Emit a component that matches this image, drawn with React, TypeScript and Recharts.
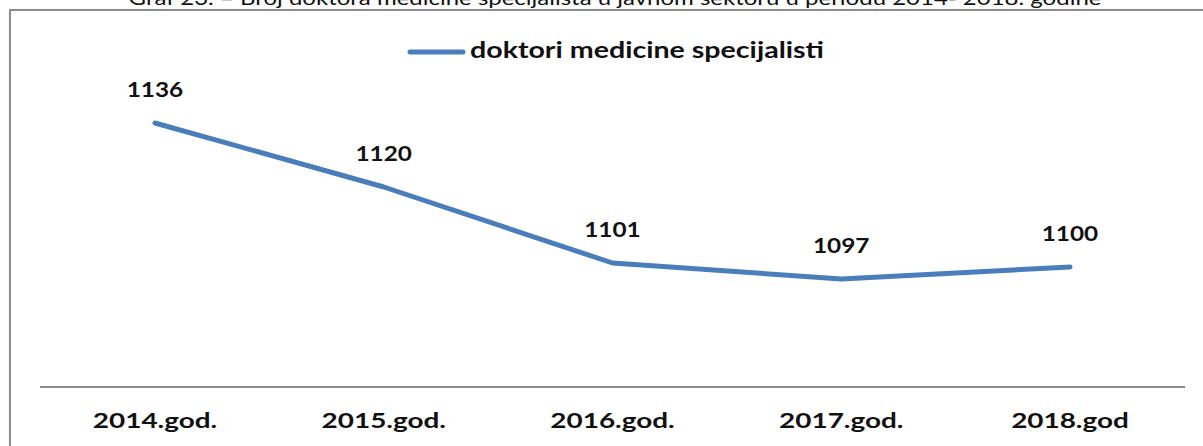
import React from 'react';
import { LineChart, Line, XAxis, YAxis, Legend, LabelList } from 'recharts';

const years = ['2014.god.', '2015.god.', '2016.god.', '2017.god.', '2018.god'];
const specialists = [1136, 1120, 1101, 1097, 1100];
const seriesName = 'doktori medicine specijalisti';
const title =
  'Graf 23. – Broj doktora medicine specijalista u javnom sektoru u periodu 2014- 2018. godine';

const data = years.map((year, i) => ({ year, value: specialists[i] }));

const BLUE = '#4a7ebb';
const FONT = 'Lato, "Open Sans", sans-serif';

// horizontal stretch for the Calibri-like lettering
const TICK_STRETCH = 1.33;
const LABEL_STRETCH = 1.16;
const LEGEND_STRETCH = 1.3;

const YearTick = ({ x, y, payload }: any) => (
  <text
    transform={`translate(${x} ${y + 33}) scale(${TICK_STRETCH} 1)`}
    textAnchor="middle"
    fontFamily={FONT}
    fontWeight={700}
    fontSize={21}
    fill="#111"
  >
    {payload.value}
  </text>
);

const ValueLabel = ({ x, y, value }: any) => (
  <text
    transform={`translate(${x} ${y - 26}) scale(${LABEL_STRETCH} 1)`}
    textAnchor="middle"
    fontFamily={FONT}
    fontWeight={700}
    fontSize={21}
    fill="#111"
  >
    {value}
  </text>
);

const LegendContent = () => (
  <svg width={1203} height={30} style={{ display: 'block' }}>
    <line x1={410} y1={16} x2={463} y2={16} stroke={BLUE} strokeWidth={5} strokeLinecap="round" />
    <text
      transform={`translate(470 22) scale(${LEGEND_STRETCH} 1)`}
      fontFamily={FONT}
      fontWeight={700}
      fontSize={22}
      fill="#111"
    >
      {seriesName}
    </text>
  </svg>
);

export default function App() {
  return (
    <div
      style={{
        position: 'fixed',
        left: 0,
        top: 0,
        width: 1203,
        height: 446,
        overflow: 'hidden',
        background: '#fff',
      }}
    >
      <svg width={1203} height={12} style={{ position: 'absolute', left: 0, top: 0 }}>
        <text
          transform="translate(615 5) scale(1.2 1)"
          textAnchor="middle"
          fontFamily={FONT}
          fontSize={20}
          fill="#111"
        >
          {title}
        </text>
      </svg>
      <div
        style={{
          position: 'absolute',
          left: 9,
          top: 9,
          width: 1300,
          height: 500,
          border: '2px solid #8c8c8c',
          boxShadow: '1px 1px 2px rgba(0,0,0,0.25)',
        }}
      />
      <div style={{ position: 'absolute', left: 0, top: 0 }}>
        <LineChart
          width={1203}
          height={446}
          data={data}
          margin={{ top: 77, right: 18, bottom: 9, left: 40 }}
        >
          <XAxis
            dataKey="year"
            scale="point"
            padding={{ left: 115, right: 115 }}
            interval={0}
            height={50}
            axisLine={{ stroke: '#8c8c8c', strokeWidth: 2 }}
            tickLine={false}
            tick={<YearTick />}
          />
          <YAxis hide domain={[1070, 1140]} />
          <Legend
            verticalAlign="top"
            content={<LegendContent />}
            wrapperStyle={{ top: 36, left: 0, width: 1203, height: 30 }}
          />
          <Line
            type="linear"
            dataKey="value"
            name={seriesName}
            stroke={BLUE}
            strokeWidth={5}
            strokeLinecap="round"
            strokeLinejoin="round"
            dot={false}
            isAnimationActive={false}
          >
            <LabelList dataKey="value" content={<ValueLabel />} />
          </Line>
        </LineChart>
      </div>
    </div>
  );
}
